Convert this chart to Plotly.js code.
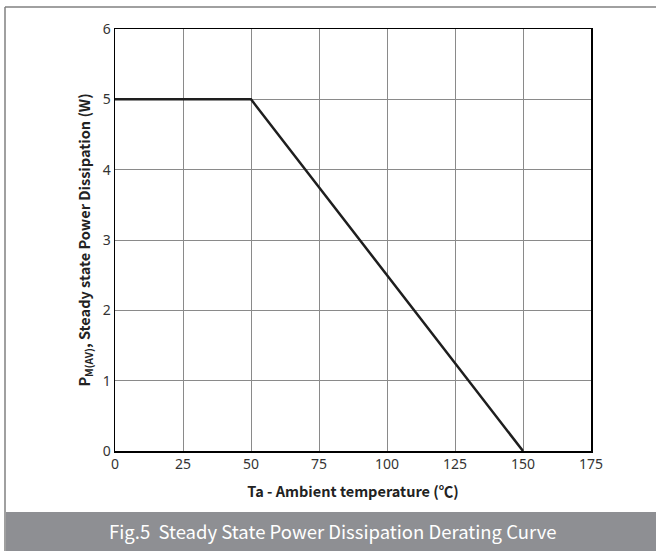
<!DOCTYPE html>
<html>
<head>
<meta charset="utf-8">
<script src="https://cdn.plot.ly/plotly-3.0.1.min.js"></script>
<style>html,body{margin:0;padding:0;background:#fff;}#chart{width:656px;height:551px;}</style>
</head>
<body>
<div id="chart"></div>
<script>
const temperature = [0, 50, 150];
const power = [5, 5, 0];
const xTicks = [0, 25, 50, 75, 100, 125, 150, 175];
const yTicks = [0, 1, 2, 3, 4, 5, 6];
const captionText = "Fig.5  Steady State Power Dissipation Derating Curve";

const L = 115, R = 591, T = 29, B = 451;
const W = R - L, H = B - T;
const px = v => (v - L) / W;
const py = v => (B - v) / H;

const trace = {
  x: temperature, y: power, type: 'scatter', mode: 'lines',
  line: {color: '#1e1e1e', width: 2.5}, hoverinfo: 'skip', showlegend: false
};

const layout = {
  width: 656, height: 551,
  margin: {l: L, r: 656 - R, t: T, b: 551 - B},
  paper_bgcolor: '#ffffff', plot_bgcolor: '#ffffff',
  font: {family: 'Noto Sans, sans-serif', color: '#333333', size: 14},
  xaxis: {
    range: [0, 175], tickvals: xTicks, ticktext: xTicks.map(String),
    showgrid: true, gridcolor: '#8a8a8a', gridwidth: 1,
    showline: true, linecolor: '#000000', linewidth: 1.5, mirror: true,
    zeroline: false, ticks: '', fixedrange: true,
    tickfont: {family: 'Noto Sans, sans-serif', size: 14, color: '#333'},
    title: {text: 'Ta - Ambient temperature (℃)', standoff: 14,
      font: {family: 'Noto Sans CJK SC, Noto Sans, sans-serif', size: 14.5, color: '#222', weight: 'bold'}}
  },
  yaxis: {
    range: [0, 6], tickvals: yTicks, ticktext: yTicks.map(String),
    showgrid: true, gridcolor: '#8a8a8a', gridwidth: 1,
    showline: true, linecolor: '#000000', linewidth: 1.5, mirror: true,
    zeroline: false, ticks: '', fixedrange: true,
    tickfont: {family: 'Noto Sans, sans-serif', size: 14, color: '#333'},
    title: {text: 'P<sub>M(AV)</sub>, Steady state Power Dissipation (W)', standoff: 8,
      font: {family: 'Noto Sans CJK SC, Noto Sans, sans-serif', size: 14.5, color: '#222', weight: 'bold'}}
  },
  shapes: [
    {type: 'rect', xref: 'paper', yref: 'paper', x0: px(6), x1: px(660), y0: py(512), y1: py(555),
      fillcolor: '#8e8f93', line: {width: 0}, layer: 'below'},
    {type: 'line', xref: 'paper', yref: 'paper', x0: px(5), x1: px(5), y0: py(7), y1: py(555),
      line: {color: '#808080', width: 1.5}},
    {type: 'line', xref: 'paper', yref: 'paper', x0: px(5), x1: px(660), y0: py(7), y1: py(7),
      line: {color: '#808080', width: 1.5}}
  ],
  annotations: [
    {text: captionText, xref: 'paper', yref: 'paper', x: px(333), y: py(531),
      xanchor: 'center', yanchor: 'middle', showarrow: false,
      font: {family: 'Noto Sans CJK SC, Noto Sans, sans-serif', size: 18.5, color: '#ffffff'}}
  ]
};

Plotly.newPlot('chart', [trace], layout, {staticPlot: true, displayModeBar: false});
</script>
</body>
</html>
